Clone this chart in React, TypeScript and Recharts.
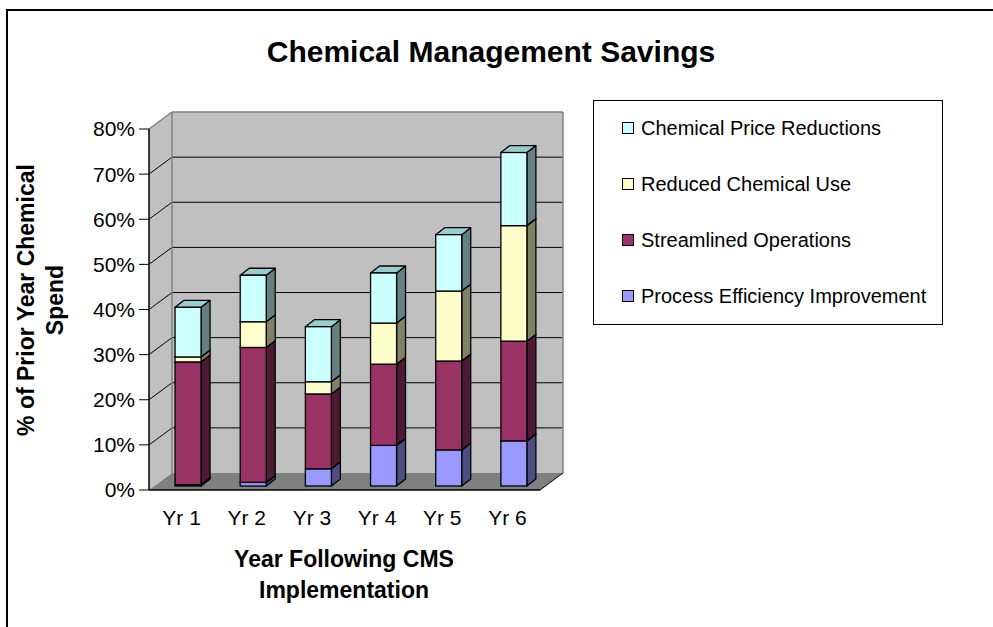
import React from 'react';
import { BarChart, Bar, XAxis, YAxis, Legend, ReferenceArea } from 'recharts';

// ---- data ----
const years = ['Yr 1', 'Yr 2', 'Yr 3', 'Yr 4', 'Yr 5', 'Yr 6'];
const processEfficiency = [0.3, 0.8, 3.8, 9.0, 8.0, 10.0];
const streamlinedOperations = [27.2, 29.9, 16.6, 18.0, 19.7, 22.1];
const reducedChemicalUse = [1.1, 5.7, 2.7, 9.1, 15.5, 25.6];
const chemicalPriceReductions = [11.0, 10.3, 12.2, 11.1, 12.5, 16.2];
const yTicks = [0, 10, 20, 30, 40, 50, 60, 70, 80];
const boundaryTicks = [0, 1, 2, 3, 4, 5, 6];

const title = 'Chemical Management Savings';
const xTitle = ['Year Following CMS', 'Implementation'];
const yTitle = ['% of Prior Year Chemical', 'Spend'];

const series = [
  { key: 'process', name: 'Process Efficiency Improvement', values: processEfficiency, front: '#9999FF', side: '#4D4D80', top: '#7A7ACC' },
  { key: 'streamlined', name: 'Streamlined Operations', values: streamlinedOperations, front: '#993366', side: '#4D1A33', top: '#7A2952' },
  { key: 'reduced', name: 'Reduced Chemical Use', values: reducedChemicalUse, front: '#FFFFCC', side: '#808066', top: '#CCCCA3' },
  { key: 'price', name: 'Chemical Price Reductions', values: chemicalPriceReductions, front: '#CCFFFF', side: '#668080', top: '#99CCCC' },
];

const data = years.map((year, i) => {
  const row: any = { year };
  series.forEach((s) => { row[s.key] = s.values[i]; });
  return row;
});

const FONT = '"Liberation Sans", Arial, sans-serif';
const WALL_DX = 23;
const WALL_DY = 17;
const BAR_OX = 6.5;
const BAR_OY = 4;
const BAR_DX = 9;
const BAR_DY = 7;

const makeBarShape = (s: any) => (props: any) => {
  const { x, y, width, height } = props;
  if (x == null || y == null || !width || height == null) return <g />;
  const fx = x + BAR_OX;
  const fy = y - BAR_OY;
  const w = width;
  const h = height;
  return (
    <g>
      <polygon
        points={`${fx + w},${fy} ${fx + w + BAR_DX},${fy - BAR_DY} ${fx + w + BAR_DX},${fy + h - BAR_DY} ${fx + w},${fy + h}`}
        fill={s.side}
        stroke="#000"
        strokeWidth={1.3}
        strokeLinejoin="round"
      />
      <polygon
        points={`${fx},${fy} ${fx + BAR_DX},${fy - BAR_DY} ${fx + w + BAR_DX},${fy - BAR_DY} ${fx + w},${fy}`}
        fill={s.top}
        stroke="#000"
        strokeWidth={1.3}
        strokeLinejoin="round"
      />
      <rect x={fx} y={fy} width={w} height={h} fill={s.front} stroke="#000" strokeWidth={1.3} />
    </g>
  );
};

// walls + gridlines: the area covers the y domain 0..80 (mapped by the y scale)
const WallShape = (props: any) => {
  const { x, y, width, height } = props;
  const L = x;
  const R = x + width;
  const T = y;
  const B = y + height;
  const steps = yTicks.length - 1;
  const inner = yTicks.slice(1, -1).map((_, k) => B - ((k + 1) * height) / steps);
  return (
    <g>
      <polygon points={`${L},${T} ${L + WALL_DX},${T - WALL_DY} ${L + WALL_DX},${B - WALL_DY} ${L},${B}`} fill="#C0C0C0" />
      <rect x={L + WALL_DX} y={T - WALL_DY} width={width} height={height} fill="#C0C0C0" />
      <polygon points={`${L},${B} ${L + WALL_DX},${B - WALL_DY} ${R + WALL_DX},${B - WALL_DY} ${R},${B}`} fill="#808080" />
      {inner.map((gy, k) => (
        <g key={k}>
          <line x1={L + WALL_DX} y1={gy - WALL_DY} x2={R + WALL_DX} y2={gy - WALL_DY} stroke="#000" strokeWidth={1} />
          <line x1={L} y1={gy} x2={L + WALL_DX} y2={gy - WALL_DY} stroke="#000" strokeWidth={1} />
        </g>
      ))}
      <line x1={L} y1={T} x2={L + WALL_DX} y2={T - WALL_DY} stroke="#808080" strokeWidth={1.5} />
      <line x1={L + WALL_DX} y1={T - WALL_DY} x2={R + WALL_DX} y2={T - WALL_DY} stroke="#808080" strokeWidth={1.5} />
      <line x1={R + WALL_DX} y1={T - WALL_DY} x2={R + WALL_DX} y2={B - WALL_DY} stroke="#808080" strokeWidth={1.5} />
      <line x1={L + WALL_DX} y1={T - WALL_DY} x2={L + WALL_DX} y2={B - WALL_DY} stroke="#808080" strokeWidth={1.5} />
      <line x1={R} y1={B} x2={R + WALL_DX} y2={B - WALL_DY} stroke="#000" strokeWidth={1} />
    </g>
  );
};

const LegendBox = () => {
  const ordered = [...series].reverse();
  return (
    <div
      style={{
        width: 350,
        height: 225,
        boxSizing: 'border-box',
        border: '1px solid #000',
        background: '#fff',
        position: 'relative',
        fontFamily: FONT,
        fontSize: 20,
        color: '#000',
      }}
    >
      {ordered.map((s, i) => (
        <div
          key={s.key}
          style={{ position: 'absolute', left: 28, top: 27 + i * 56 - 12, height: 24, display: 'flex', alignItems: 'center', whiteSpace: 'nowrap' }}
        >
          <span style={{ display: 'inline-block', width: 10, height: 10, border: '1px solid #000', background: s.front, marginRight: 7 }} />
          <span>{s.name}</span>
        </div>
      ))}
    </div>
  );
};

export default function App() {
  return (
    <div style={{ position: 'absolute', left: 0, top: 0, width: 993, height: 627, background: '#fff', overflow: 'hidden' }}>
      <div style={{ position: 'absolute', left: 6, top: 9, width: 1000, height: 700, borderTop: '2px solid #000', borderLeft: '2px solid #000' }} />
      <div style={{ position: 'absolute', left: 0, top: 0 }}>
        <BarChart
          width={993}
          height={627}
          data={data}
          margin={{ top: 129, right: 453, bottom: 135, left: 0 }}
          barCategoryGap="30%"
        >
          <ReferenceArea xAxisId="cat" y1={0} y2={80} shape={WallShape} ifOverflow="visible" />
          <XAxis
            xAxisId="cat"
            dataKey="year"
            height={1}
            axisLine={false}
            tickLine={false}
            tickSize={7}
            tickMargin={12}
            interval={0}
            tick={{ fill: '#000', fontSize: 21, fontFamily: FONT }}
          />
          <XAxis
            xAxisId="bounds"
            type="number"
            domain={[0, 6]}
            ticks={boundaryTicks}
            height={1}
            tick={false}
            tickSize={7}
            axisLine={{ stroke: '#000', strokeWidth: 1.5 }}
            tickLine={{ stroke: '#000', strokeWidth: 1 }}
            allowDataOverflow
          />
          <YAxis
            type="number"
            domain={[0, 80]}
            ticks={yTicks}
            interval={0}
            width={149}
            tickSize={10}
            tickMargin={4}
            tickFormatter={(v: number) => `${v}%`}
            axisLine={{ stroke: '#000', strokeWidth: 1.5 }}
            tickLine={{ stroke: '#000', strokeWidth: 1 }}
            tick={{ fill: '#000', fontSize: 21, fontFamily: FONT }}
          />
          {series.map((s) => (
            <Bar
              key={s.key}
              xAxisId="cat"
              dataKey={s.key}
              name={s.name}
              stackId="a"
              fill={s.front}
              shape={makeBarShape(s)}
              isAnimationActive={false}
            />
          ))}
          <Legend
            layout="vertical"
            align="center"
            verticalAlign="middle"
            content={() => <LegendBox />}
            wrapperStyle={{ position: 'absolute', left: 593, top: 100, width: 350, height: 225 }}
          />
          <text x={491} y={62} textAnchor="middle" fontFamily={FONT} fontWeight="bold" fontSize={30} fill="#000">
            {title}
          </text>
          <text x={344} y={567} textAnchor="middle" fontFamily={FONT} fontWeight="bold" fontSize={23} fill="#000">
            {xTitle[0]}
          </text>
          <text x={344} y={598} textAnchor="middle" fontFamily={FONT} fontWeight="bold" fontSize={23} fill="#000">
            {xTitle[1]}
          </text>
          <text x={34} y={300} transform="rotate(-90 34 300)" textAnchor="middle" fontFamily={FONT} fontWeight="bold" fontSize={23} fill="#000">
            {yTitle[0]}
          </text>
          <text x={63} y={300} transform="rotate(-90 63 300)" textAnchor="middle" fontFamily={FONT} fontWeight="bold" fontSize={23} fill="#000">
            {yTitle[1]}
          </text>
        </BarChart>
      </div>
    </div>
  );
}
